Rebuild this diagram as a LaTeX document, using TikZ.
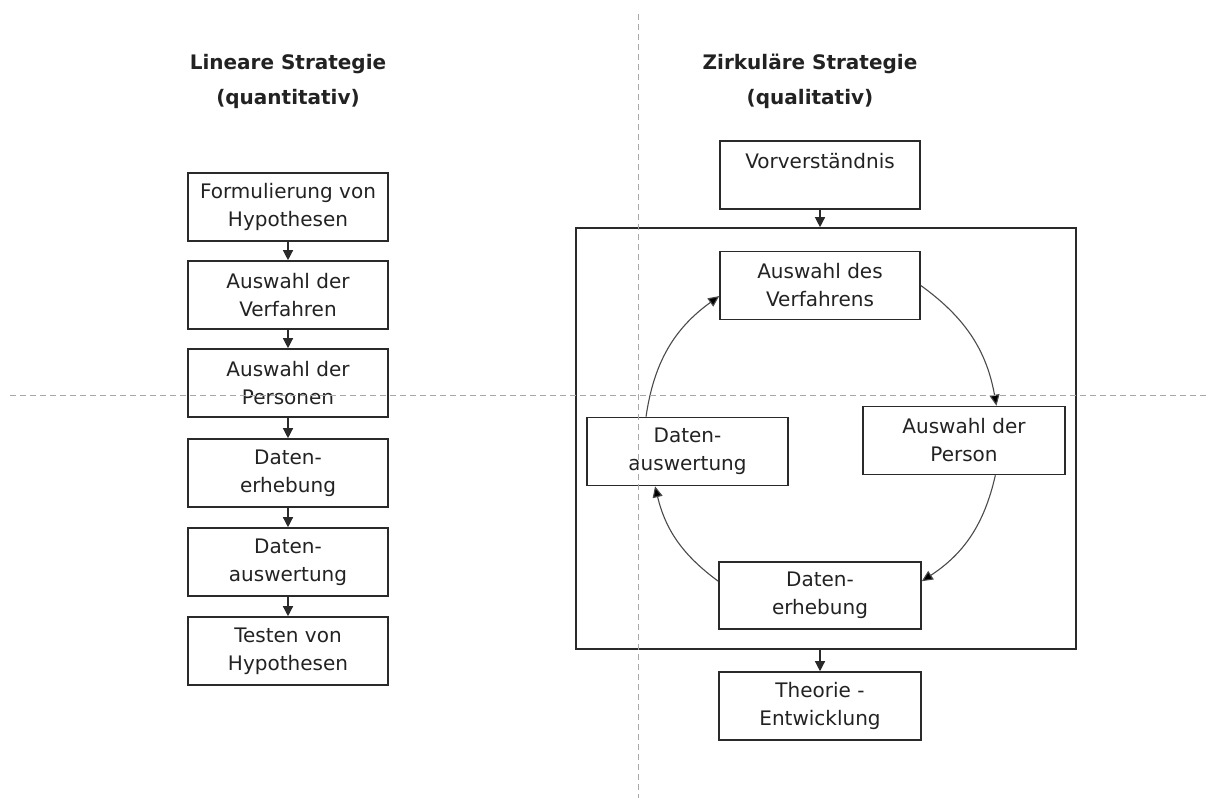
\documentclass[tikz,border=0pt]{standalone}
\usepackage{fontspec}
\setmainfont{DejaVu Sans}
\usetikzlibrary{arrows.meta,calc}
\definecolor{ink}{HTML}{222222}
\definecolor{edge}{HTML}{2A2A2A}
\definecolor{guide}{HTML}{A8A8A8}
\tikzset{
  stepbox/.style={draw=edge, line width=1.6pt, inner sep=0pt, align=center,
    minimum width=200pt, minimum height=68pt, text=ink,
    font=\fontsize{20}{28}\selectfont},
  titletext/.style={align=center, text=ink, inner sep=0pt,
    font=\fontsize{20}{35}\selectfont\bfseries},
  frame/.style={draw=edge, line width=1.6pt, inner sep=0pt,
    minimum width=500pt, minimum height=421pt},
  flow/.style={draw=edge, line width=1.3pt, -{Triangle[length=10pt,width=10pt]}},
  cycle/.style={draw=edge!85, line width=1.1pt, -{Triangle[length=11pt,width=10pt,fill=black]}},
  guideline/.style={draw=guide, line width=1pt, dash pattern=on 6pt off 4pt}
}
\begin{document}
\begin{tikzpicture}[x=1pt,y=-1pt]
\useasboundingbox (0,0) rectangle (1206,798);

% titles
\node[titletext] (tl) at (288,81) {Lineare Strategie\\(quantitativ)};
\node[titletext] (tr) at (810,81) {Zirkuläre Strategie\\(qualitativ)};

% linear column
\node[stepbox] (l1) at (288,207) {Formulierung von\\Hypothesen};
\node[stepbox] (l2) at (288,295) {Auswahl der\\Verfahren};
\node[stepbox] (l3) at (288,383) {Auswahl der\\Personen};
\node[stepbox] (l4) at (288,473) {Daten-\\erhebung};
\node[stepbox] (l5) at (288,562) {Daten-\\auswertung};
\node[stepbox] (l6) at (288,651) {Testen von\\Hypothesen};
\draw[flow] (l1) -- (l2);
\draw[flow] (l2) -- (l3);
\draw[flow] (l3) -- (l4);
\draw[flow] (l4) -- (l5);
\draw[flow] (l5) -- (l6);

% circular strategy
\node[stepbox] (vv) at (820,175) {Vorverständnis\\~};
\node[frame] (fr) at (826,438.5) {};
\node[stepbox] (cv) at (820,285.5) {Auswahl des\\Verfahrens};
\node[stepbox, minimum width=202pt] (cp) at (964,440.5) {Auswahl der\\Person};
\node[stepbox, minimum width=201pt] (ca) at (687.5,451.5) {Daten-\\auswertung};
\node[stepbox, minimum width=202pt, minimum height=67pt] (ce) at (820,595.5) {Daten-\\erhebung};
\node[stepbox, minimum width=202pt] (th) at (820,706) {Theorie -\\Entwicklung};

\draw[flow] (vv.south) -- (vv.south |- fr.north);
\draw[flow] (th.north |- fr.south) -- (th.north);

\draw[cycle] (cv.east) to[bend left=22] (cp.47);
\draw[cycle] (cp.-48) to[bend left=22] (ce.8);
\draw[cycle] (ce.172) to[bend left=20] (ca.-133);
\draw[cycle] (ca.140) to[bend left=23] (cv.186);

% dashed guide lines
\coordinate (gh1) at (10,395);
\coordinate (gh2) at (1206,395);
\coordinate (gv1) at (638,14);
\coordinate (gv2) at (638,798);
\draw[guideline] (gh1) -- (gh2);
\draw[guideline] (gv1) -- (gv2);
\end{tikzpicture}
\end{document}
